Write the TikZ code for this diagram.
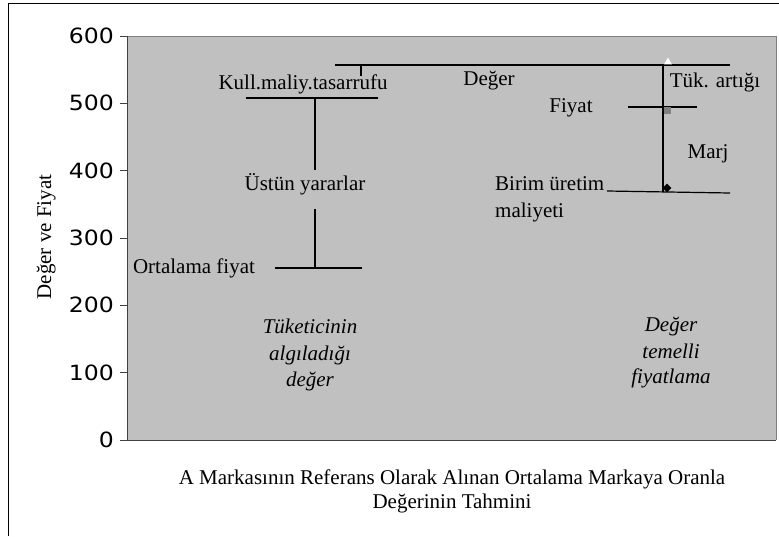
\documentclass[tikz,border=0pt]{standalone}
\usepackage{fontspec}
\setmainfont{Liberation Serif}
\newfontfamily\tickfont{DejaVu Sans}
\usetikzlibrary{shapes.geometric}
\definecolor{plotgray}{HTML}{C0C0C0}
\definecolor{edgegray}{HTML}{808080}
\begin{document}
\begin{tikzpicture}[x=1pt,y=-1pt,
  lbl/.style={font=\fontsize{21}{24}\selectfont, inner sep=0pt, anchor=base},
  ital/.style={font=\fontsize{21}{24}\selectfont\itshape, inner sep=0pt, anchor=base},
  ticklbl/.style={font=\fontsize{21}{24}\tickfont, inner sep=0pt, anchor=base east},
  bar/.style={line width=1.2pt, black},
  axisline/.style={line width=0.9pt, black!75},
]
\useasboundingbox (0,0) rectangle (779,536);
% outer frame
\draw[line width=1pt] (8,536) -- (8,3) -- (779,3);
% plot area
\fill[plotgray] (127,36) rectangle (776,440);
\draw[edgegray, line width=0.8pt] (127,36) -- (776,36) -- (776,440);
\draw[axisline] (127,36) -- (127,440) -- (776,440);
% ticks and labels
\foreach \v [evaluate=\v as \yy using 440-\v*67.33] in {0,...,6} {
  \draw[axisline] (120,\yy) -- (127,\yy);
  \node[ticklbl] (t\v) at (114,\yy+7.5) {\scalebox{1.12}[1]{\pgfmathparse{int(\v*100)}\pgfmathresult}};
}
% y label
\node[lbl, rotate=90] (ylab) at (51,237) {Değer ve Fiyat};

% left construction
\coordinate (vtopL) at (335,65);
\coordinate (vtopR) at (730,65);
\coordinate (vtick) at (361,76);
\draw[bar] (vtopL) -- (vtopR);
\draw[bar] (361,65) -- (vtick);
\coordinate (kullL) at (246,98);
\coordinate (kullR) at (378,98);
\draw[bar] (kullL) -- (kullR);
\coordinate (vA) at (315,98);
\coordinate (vB) at (315,170);
\coordinate (vC) at (315,209);
\coordinate (vD) at (315,268);
\draw[bar] (vA) -- (vB);
\draw[bar] (vC) -- (vD);
\coordinate (ortL) at (275,268);
\coordinate (ortR) at (362,268);
\draw[bar] (ortL) -- (ortR);

% right construction
\coordinate (rTop) at (663,65);
\coordinate (rBot) at (663,192);
\draw[bar] (rTop) -- (rBot);
\coordinate (fL) at (628,107);
\coordinate (fR) at (697,107);
\draw[bar] (fL) -- (fR);
\coordinate (bL) at (607,191);
\coordinate (bR) at (730,193);
\draw[bar] (bL) -- (bR);

% markers
\node[regular polygon, regular polygon sides=3, fill=white, inner sep=0pt, minimum size=9pt] (mtri) at (668,62) {};
\node[fill=edgegray, inner sep=0pt, minimum size=7pt] (msq) at (667,110) {};
\node[diamond, fill=black, inner sep=0pt, minimum size=9pt] (mdia) at (667,188) {};

% labels
\node[lbl] (kull) at (303,89) {Kull.maliy.tasarrufu};
\node[lbl] (ustun) at (305,190) {Üstün yararlar};
\node[lbl] (ort) at (194,273) {Ortalama fiyat};
\node[lbl] (deger) at (489,85) {Değer};
\node[lbl] (tuk) at (715,87) {Tük. artığı};
\node[lbl] (fiyat) at (571,112) {Fiyat};
\node[lbl] (marj) at (708,158) {Marj};
\node[lbl, anchor=base west] (birim1) at (495,190) {Birim üretim};
\node[lbl, anchor=base west] (birim2) at (495,217) {maliyeti};

% italic blocks
\node[ital] (tk1) at (310,333) {Tüketicinin};
\node[ital] (tk2) at (310,360) {algıladığı};
\node[ital] (tk3) at (310,386) {değer};
\node[ital] (dt1) at (671,331) {Değer};
\node[ital] (dt2) at (671,358) {temelli};
\node[ital] (dt3) at (671,383) {fiyatlama};

% caption
\node[lbl] (cap1) at (452,484) {A Markasının Referans Olarak Alınan Ortalama Markaya Oranla};
\node[lbl] (cap2) at (452,508) {Değerinin Tahmini};
\end{tikzpicture}
\end{document}
